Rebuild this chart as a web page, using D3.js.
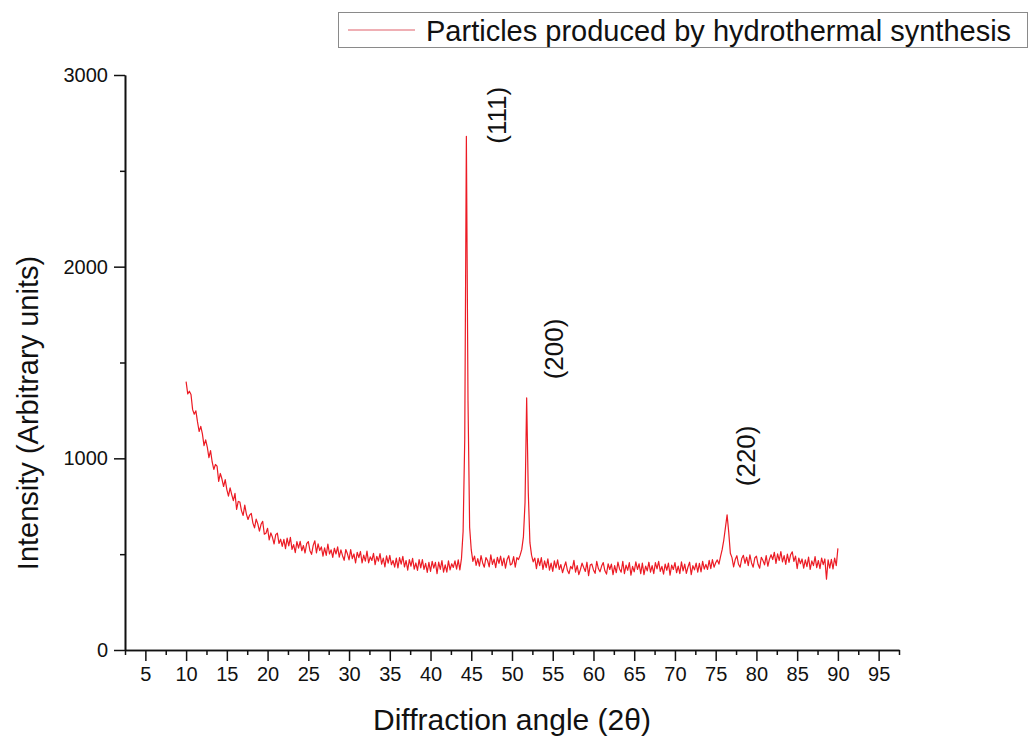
<!DOCTYPE html>
<html>
<head>
<meta charset="utf-8">
<script src="https://cdn.jsdelivr.net/npm/d3@7"></script>
<style>
  body { margin: 0; background: #fff; }
  svg { display: block; }
  text { font-family: "Liberation Sans", Arial, sans-serif; fill: #111; }
</style>
</head>
<body>
<svg id="chart" width="1029" height="738"></svg>
<script>
// XRD scan: 2θ from 10° to 90° sampled every 0.2°
const scanStart = 10;
const scanStep = 0.2;
const intensity = [
  1400, 1336, 1350, 1333, 1254,   // 10
  1230, 1248, 1190, 1140, 1167,   // 11
  1128, 1066, 1096, 1059, 1004,   // 12
  1040, 981, 942, 968, 959,       // 13
  880, 921, 892, 853, 889,        // 14
  837, 803, 846, 811, 779,        // 15
  817, 734, 775, 772, 726,        // 16
  702, 756, 709, 681, 704,        // 17
  713, 662, 637, 683, 658,        // 18
  620, 656, 671, 604, 609,        // 19
  635, 574, 611, 588, 553,        // 20
  602, 610, 556, 578, 541,        // 21
  577, 529, 584, 543, 588,        // 22
  525, 550, 508, 566, 531,        // 23
  567, 518, 545, 506, 555,        // 24
  566, 518, 499, 546, 570,        // 25
  507, 554, 519, 538, 490,        // 26
  533, 494, 553, 501, 523,        // 27
  483, 531, 501, 538, 484,        // 28
  522, 492, 468, 524, 502,        // 29
  470, 524, 477, 501, 454,        // 30
  510, 482, 514, 454, 495,        // 31
  464, 516, 455, 486, 467,        // 32
  504, 445, 489, 464, 503,        // 33
  448, 479, 433, 491, 453,        // 34
  494, 445, 467, 432, 479,        // 35
  428, 482, 448, 489, 433,        // 36
  467, 416, 472, 437, 478,        // 37
  422, 454, 415, 472, 428,        // 38
  472, 421, 452, 405, 457,        // 39
  410, 463, 427, 457, 398,        // 40
  458, 421, 466, 406, 444,        // 41
  406, 465, 418, 450, 431,        // 42
  465, 422, 470, 418, 478,        // 43
  620, 1100, 2680, 1300, 640,     // 44  (111)
  522, 462, 490, 442, 477,        // 45
  437, 492, 454, 432, 482,        // 46
  467, 434, 497, 447, 474,        // 47
  430, 484, 452, 490, 440,        // 48
  480, 427, 472, 492, 444,        // 49
  450, 487, 432, 482, 472,        // 50
  495, 525, 590, 770, 1315,       // 51  (200)
  820, 560, 495, 460, 480,        // 52
  425, 478, 440, 482, 420,        // 53
  465, 430, 475, 417, 453,        // 54
  410, 465, 428, 470, 420,        // 55
  446, 403, 433, 460, 416,        // 56
  398, 436, 423, 468, 406,        // 57
  440, 393, 420, 453, 430,        // 58
  410, 458, 388, 443, 448,        // 59
  418, 400, 463, 425, 408,        // 60
  438, 456, 413, 396, 450,        // 61
  420, 448, 393, 440, 403,        // 62
  458, 423, 406, 463, 398,        // 63
  443, 416, 456, 390, 436,        // 64
  408, 460, 420, 450, 398,        // 65
  453, 393, 438, 413, 458,        // 66
  406, 440, 398, 456, 423,        // 67
  463, 410, 436, 396, 448,        // 68
  416, 453, 390, 443, 420,        // 69
  456, 403, 438, 398, 460,        // 70
  413, 448, 400, 433, 458,        // 71
  393, 440, 418, 453, 406,        // 72
  452, 407, 462, 422, 447,        // 73
  420, 468, 425, 472, 432,        // 74
  455, 470, 448, 488, 525,        // 75
  575, 640, 705, 615, 505,        // 76  (220)
  482, 434, 472, 492, 447,        // 77
  432, 477, 494, 452, 484,        // 78
  440, 497, 454, 432, 480,        // 79
  490, 447, 427, 484, 467,        // 80
  444, 492, 437, 474, 497,        // 81
  472, 510, 452, 502, 467,        // 82
  514, 460, 492, 447, 500,        // 83
  457, 497, 512, 462, 490,        // 84
  425, 480, 450, 475, 427,        // 85
  470, 435, 485, 420, 465,        // 86
  440, 487, 430, 467, 425,        // 87
  480, 445, 475, 370, 470,        // 88
  427, 473, 423, 480, 440,        // 89
  530                             // 90
];

// Miller indices of the indexed reflections and the scan points they sit on
const peakLabels = ["(111)", "(200)", "(220)"];
const peakAngles = [44.4, 51.8, 76.4];

const xTicks = d3.range(5, 96, 5);
const xMinorTicks = d3.range(2.5, 98, 5);
const yTicks = [0, 1000, 2000, 3000];
const yMinorTicks = [500, 1500, 2500];

const seriesName = "Particles produced by hydrothermal synthesis";
const xTitle = "Diffraction angle (2θ)";
const yTitle = "Intensity (Arbitrary units)";

// ---- layout ----
const svg = d3.select("#chart");
const plot = { left: 125, right: 899, top: 75, bottom: 650 };
const lineColor = "#ec1b24";

const x = d3.scaleLinear().domain([2.5, 97.5]).range([plot.left, plot.right]);
const y = d3.scaleLinear().domain([0, 3000]).range([plot.bottom, plot.top]);

const points = intensity.map((v, i) => [scanStart + i * scanStep, v]);

// trace
svg.append("path")
  .datum(points)
  .attr("fill", "none")
  .attr("stroke", lineColor)
  .attr("stroke-width", 1.2)
  .attr("stroke-linejoin", "round")
  .attr("d", d3.line().x(d => x(d[0])).y(d => y(d[1])));

// axes
function styleAxis(g) {
  g.selectAll("path.domain").attr("stroke", "#111").attr("stroke-width", 1.6);
  g.selectAll(".tick line").attr("stroke", "#111").attr("stroke-width", 1.5);
  g.selectAll(".tick text")
    .attr("fill", "#111")
    .style("font-family", '"Liberation Sans", Arial, sans-serif')
    .style("font-size", "20px");
}

svg.append("g")
  .attr("transform", `translate(0,${plot.bottom})`)
  .call(d3.axisBottom(x).tickValues(xMinorTicks).tickSize(5).tickSizeOuter(0).tickFormat(""))
  .call(styleAxis);

svg.append("g")
  .attr("transform", `translate(0,${plot.bottom})`)
  .call(d3.axisBottom(x).tickValues(xTicks).tickSize(11).tickPadding(6).tickSizeOuter(0).tickFormat(d3.format("d")))
  .call(styleAxis);

svg.append("g")
  .attr("transform", `translate(${plot.left},0)`)
  .call(d3.axisLeft(y).tickValues(yMinorTicks).tickSize(5).tickSizeOuter(0).tickFormat(""))
  .call(styleAxis);

svg.append("g")
  .attr("transform", `translate(${plot.left},0)`)
  .call(d3.axisLeft(y).tickValues(yTicks).tickSize(11).tickPadding(6).tickSizeOuter(0).tickFormat(d3.format("d")))
  .call(styleAxis);

// axis titles
svg.append("text")
  .attr("x", (plot.left + plot.right) / 2)
  .attr("y", 730)
  .attr("text-anchor", "middle")
  .style("font-size", "30px")
  .text(xTitle);

svg.append("text")
  .attr("transform", "translate(38,413) rotate(-90)")
  .attr("text-anchor", "middle")
  .style("font-size", "29px")
  .text(yTitle);

// reflection labels, offset right of and above each peak top (px)
const labelOffsets = [[31, -21], [27, -49], [19, -59]];
peakLabels.forEach((lab, i) => {
  const k = Math.round((peakAngles[i] - scanStart) / scanStep);
  const px = x(peakAngles[i]) + labelOffsets[i][0];
  const py = y(intensity[k]) + labelOffsets[i][1];
  svg.append("text")
    .attr("transform", `translate(${px},${py}) rotate(-90)`)
    .attr("text-anchor", "middle")
    .attr("dominant-baseline", "central")
    .style("font-size", "26px")
    .text(lab);
});

// legend
const legend = svg.append("g");
legend.append("rect")
  .attr("x", 338.5).attr("y", 12.5)
  .attr("width", 689).attr("height", 35)
  .attr("fill", "#fff")
  .attr("stroke", "#8a8a8a")
  .attr("stroke-width", 1);
legend.append("line")
  .attr("x1", 348).attr("x2", 415)
  .attr("y1", 30).attr("y2", 30)
  .attr("stroke", "#e0606a")
  .attr("stroke-width", 1.2);
legend.append("text")
  .attr("x", 426).attr("y", 40.5)
  .style("font-size", "29px")
  .text(seriesName);
</script>
</body>
</html>
